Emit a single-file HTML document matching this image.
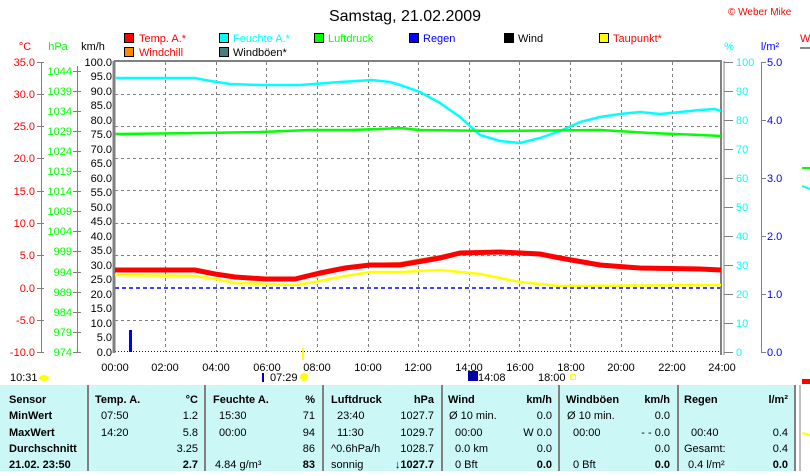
<!DOCTYPE html>
<html><head><meta charset="utf-8"><style>
body{margin:0;background:#fff;width:810px;height:471px;overflow:hidden;font-family:"Liberation Sans",sans-serif}
svg text{font-family:"Liberation Sans",sans-serif;font-size:11px}
.b{font-weight:bold}
</style></head><body>
<svg width="810" height="471" viewBox="0 0 810 471">
<text x="405" y="21" font-size="16" style="font-size:16px" text-anchor="middle">Samstag, 21.02.2009</text>
<text x="728" y="15" fill="#f00" style="font-size:10px">© Weber Mike</text>
<g>
<rect x="124.5" y="33.5" width="9" height="9" fill="#f00" stroke="#000"/><text x="139" y="42" fill="#f00">Temp. A.*</text>
<rect x="124.5" y="47.5" width="9" height="9" fill="#f80" stroke="#000"/><text x="139" y="56" fill="#f00">Windchill</text>
<rect x="219.5" y="33.5" width="9" height="9" fill="#0ff" stroke="#000"/><text x="233" y="42" fill="#0ff">Feuchte A.*</text>
<rect x="219.5" y="47.5" width="9" height="9" fill="#478080" stroke="#000"/><text x="233" y="56">Windböen*</text>
<rect x="314.5" y="33.5" width="9" height="9" fill="#0f0" stroke="#000"/><text x="328" y="42" fill="#0f0">Luftdruck</text>
<rect x="409.5" y="33.5" width="9" height="9" fill="#00f" stroke="#000"/><text x="423" y="42" fill="#00f">Regen</text>
<rect x="504.5" y="33.5" width="9" height="9" fill="#000" stroke="#000"/><text x="518" y="42">Wind</text>
<rect x="599.5" y="33.5" width="9" height="9" fill="#ff0" stroke="#000"/><text x="613" y="42" fill="#f00">Taupunkt*</text>
</g>
<text x="25" y="50" fill="#f00" text-anchor="middle">°C</text>
<text x="58" y="50" fill="#0f0" text-anchor="middle">hPa</text>
<text x="93" y="50" text-anchor="middle">km/h</text>
<text x="729" y="50" fill="#0ff" text-anchor="middle">%</text>
<text x="770" y="50" fill="#00f" text-anchor="middle">l/m²</text>
<text x="800" y="42" fill="#f00">W</text>
<line x1="800" y1="48" x2="810" y2="48" stroke="#888" stroke-width="2"/>
<g stroke="#808080" stroke-dasharray="3,3" stroke-width="1">
<line x1="115" y1="94.5" x2="721" y2="94.5"/><line x1="115" y1="126.5" x2="721" y2="126.5"/>
<line x1="115" y1="158.5" x2="721" y2="158.5"/><line x1="115" y1="190.5" x2="721" y2="190.5"/>
<line x1="115" y1="223.5" x2="721" y2="223.5"/><line x1="115" y1="255.5" x2="721" y2="255.5"/>
<line x1="115" y1="320.5" x2="721" y2="320.5"/>
<line x1="165.5" y1="62" x2="165.5" y2="352"/><line x1="216.5" y1="62" x2="216.5" y2="352"/>
<line x1="266.5" y1="62" x2="266.5" y2="352"/><line x1="317.5" y1="62" x2="317.5" y2="352"/>
<line x1="368.5" y1="62" x2="368.5" y2="352"/><line x1="418.5" y1="62" x2="418.5" y2="352"/>
<line x1="469.5" y1="62" x2="469.5" y2="352"/><line x1="519.5" y1="62" x2="519.5" y2="352"/>
<line x1="570.5" y1="62" x2="570.5" y2="352"/><line x1="621.5" y1="62" x2="621.5" y2="352"/>
<line x1="672.5" y1="62" x2="672.5" y2="352"/>
</g>
<line x1="115" y1="288" x2="721" y2="288" stroke="#0000ff" stroke-width="1.5" stroke-dasharray="4,3"/>
<line x1="115" y1="351.5" x2="721" y2="351.5" stroke="#00f" stroke-dasharray="1,2"/>
<g stroke="#808080" fill="none">
<line x1="114" y1="61" x2="722" y2="61" stroke-width="2"/>
<line x1="114" y1="61" x2="114" y2="353" stroke-width="3"/>
<line x1="721" y1="61" x2="721" y2="355" stroke-width="2"/>
<line x1="724" y1="61" x2="724" y2="355" stroke-width="1"/>
<line x1="41.5" y1="62" x2="41.5" y2="352"/>
<line x1="77.5" y1="66" x2="77.5" y2="352"/>
<line x1="761.5" y1="62" x2="761.5" y2="352"/>
</g>
<polyline fill="none" stroke="#0ff" stroke-width="2.5" points="115,78 195,78 205,80 230,84 260,85 300,85 340,82 372,80 390,82 400,85 420,92 440,103 460,117 480,135 500,141 520,143 540,138 560,131 580,122 600,117 620,114 640,112 660,114 680,112 700,110 715,109 721,111"/>
<polyline fill="none" stroke="#0f0" stroke-width="2.5" points="115,134 200,133 260,132 310,130 350,130 380,129 400,128 420,130 500,131 600,130 650,133 700,135 721,136"/>
<polyline fill="none" stroke="#f80" stroke-width="2" points="115,269 195,269 215,273 235,277 265,279 295,279 320,275 345,269 370,264 400,263 440,256 460,252 500,251 540,253 560,257 600,264 640,267 700,268 721,269"/>
<polyline fill="none" stroke="#f00" stroke-width="5" points="115,270 195,270 215,274 235,277 265,279 295,279 320,273 345,268 370,265 400,265 440,258 460,253 500,252 540,254 560,258 600,265 640,268 700,269 721,270"/>
<polyline fill="none" stroke="#ff0" stroke-width="2.5" points="115,275 195,276 215,279 235,283 265,284 295,285 320,281 345,276 370,272 400,272 440,270 480,274 520,282 560,286 721,285"/>
<rect x="129" y="330" width="3" height="22" fill="#00f"/>
<rect x="302" y="348" width="2" height="12" fill="#ff0"/>
<g fill="#f00" text-anchor="end">
<text x="35" y="66">35.0</text><text x="35" y="98">30.0</text><text x="35" y="130">25.0</text><text x="35" y="162">20.0</text><text x="35" y="195">15.0</text><text x="35" y="227">10.0</text><text x="35" y="259">5.0</text><text x="35" y="292">0.0</text><text x="35" y="324">-5.0</text><text x="35" y="356">-10.0</text>
</g>
<g stroke="#808080"><line x1="37" y1="62.5" x2="44" y2="62.5"/><line x1="37" y1="94.5" x2="44" y2="94.5"/><line x1="37" y1="126.5" x2="44" y2="126.5"/><line x1="37" y1="158.5" x2="44" y2="158.5"/><line x1="37" y1="191.5" x2="44" y2="191.5"/><line x1="37" y1="223.5" x2="44" y2="223.5"/><line x1="37" y1="255.5" x2="44" y2="255.5"/><line x1="37" y1="288.5" x2="44" y2="288.5"/><line x1="37" y1="320.5" x2="44" y2="320.5"/><line x1="37" y1="352.5" x2="44" y2="352.5"/></g>
<g fill="#0f0" text-anchor="end">
<text x="72" y="75">1044</text><text x="72" y="95">1039</text><text x="72" y="115">1034</text><text x="72" y="135">1029</text><text x="72" y="155">1024</text><text x="72" y="175">1019</text><text x="72" y="195">1014</text><text x="72" y="215">1009</text><text x="72" y="235">1004</text><text x="72" y="255">999</text><text x="72" y="276">994</text><text x="72" y="296">989</text><text x="72" y="316">984</text><text x="72" y="336">979</text><text x="72" y="356">974</text>
</g>
<g stroke="#808080"><line x1="73" y1="71.5" x2="81" y2="71.5"/><line x1="73" y1="91.5" x2="81" y2="91.5"/><line x1="73" y1="111.5" x2="81" y2="111.5"/><line x1="73" y1="131.5" x2="81" y2="131.5"/><line x1="73" y1="151.5" x2="81" y2="151.5"/><line x1="73" y1="171.5" x2="81" y2="171.5"/><line x1="73" y1="191.5" x2="81" y2="191.5"/><line x1="73" y1="211.5" x2="81" y2="211.5"/><line x1="73" y1="231.5" x2="81" y2="231.5"/><line x1="73" y1="251.5" x2="81" y2="251.5"/><line x1="73" y1="272.5" x2="81" y2="272.5"/><line x1="73" y1="292.5" x2="81" y2="292.5"/><line x1="73" y1="312.5" x2="81" y2="312.5"/><line x1="73" y1="332.5" x2="81" y2="332.5"/><line x1="73" y1="352.5" x2="81" y2="352.5"/></g>
<g text-anchor="end">
<text x="112" y="66">100.0</text><text x="112" y="80">95.0</text><text x="112" y="95">90.0</text><text x="112" y="109">85.0</text><text x="112" y="124">80.0</text><text x="112" y="138">75.0</text><text x="112" y="153">70.0</text><text x="112" y="167">65.0</text><text x="112" y="182">60.0</text><text x="112" y="196">55.0</text><text x="112" y="211">50.0</text><text x="112" y="225">45.0</text><text x="112" y="240">40.0</text><text x="112" y="254">35.0</text><text x="112" y="269">30.0</text><text x="112" y="283">25.0</text><text x="112" y="298">20.0</text><text x="112" y="312">15.0</text><text x="112" y="327">10.0</text><text x="112" y="341">5.0</text><text x="112" y="356">0.0</text>
</g>
<g fill="#0ff">
<text x="736" y="66">100</text><text x="736" y="95">90</text><text x="736" y="124">80</text><text x="736" y="153">70</text><text x="736" y="182">60</text><text x="736" y="211">50</text><text x="736" y="240">40</text><text x="736" y="269">30</text><text x="736" y="298">20</text><text x="736" y="327">10</text><text x="736" y="356">0</text>
</g>
<g stroke="#808080"><line x1="724" y1="62.5" x2="733" y2="62.5"/><line x1="724" y1="91.5" x2="733" y2="91.5"/><line x1="724" y1="120.5" x2="733" y2="120.5"/><line x1="724" y1="149.5" x2="733" y2="149.5"/><line x1="724" y1="178.5" x2="733" y2="178.5"/><line x1="724" y1="207.5" x2="733" y2="207.5"/><line x1="724" y1="236.5" x2="733" y2="236.5"/><line x1="724" y1="265.5" x2="733" y2="265.5"/><line x1="724" y1="294.5" x2="733" y2="294.5"/><line x1="724" y1="323.5" x2="733" y2="323.5"/><line x1="724" y1="352.5" x2="733" y2="352.5"/>
<line x1="761" y1="62.5" x2="766" y2="62.5"/><line x1="761" y1="120.5" x2="766" y2="120.5"/><line x1="761" y1="178.5" x2="766" y2="178.5"/><line x1="761" y1="236.5" x2="766" y2="236.5"/><line x1="761" y1="294.5" x2="766" y2="294.5"/><line x1="761" y1="352.5" x2="766" y2="352.5"/></g>
<g fill="#00f"><text x="767" y="66">5.0</text><text x="767" y="124">4.0</text><text x="767" y="182">3.0</text><text x="767" y="240">2.0</text><text x="767" y="298">1.0</text><text x="767" y="356">0.0</text></g>
<line x1="802" y1="168" x2="810" y2="168" stroke="#0f0" stroke-width="2"/>
<line x1="802" y1="186" x2="810" y2="189" stroke="#0ff" stroke-width="2"/>
<g text-anchor="middle">
<text x="115" y="371">00:00</text><text x="165" y="371">02:00</text><text x="216" y="371">04:00</text><text x="267" y="371">06:00</text><text x="317" y="371">08:00</text><text x="368" y="371">10:00</text><text x="418" y="371">12:00</text><text x="469" y="371">14:00</text><text x="520" y="371">16:00</text><text x="571" y="371">18:00</text><text x="621" y="371">20:00</text><text x="672" y="371">22:00</text><text x="722" y="371">24:00</text>
</g>
<text x="10" y="381">10:31</text><ellipse cx="44" cy="378" rx="5" ry="3" fill="#ff0"/>
<rect x="262" y="373" width="2" height="9" fill="#00a"/>
<text x="270" y="381">07:29</text><circle cx="304" cy="377" r="4" fill="#ff0"/>
<rect x="468" y="371" width="10" height="10" fill="#00a"/><text x="478" y="381">14:08</text>
<text x="538" y="381">18:00</text><rect x="570.5" y="374.5" width="5" height="5" fill="none" stroke="#ff0"/>
<rect x="0" y="385" width="795" height="86" fill="#ccf7f7"/>
<g stroke="#808080" stroke-width="2"><line x1="88" y1="385" x2="88" y2="471"/><line x1="205" y1="385" x2="205" y2="471"/><line x1="323" y1="385" x2="323" y2="471"/><line x1="442" y1="385" x2="442" y2="471"/><line x1="559" y1="385" x2="559" y2="471"/><line x1="678" y1="385" x2="678" y2="471"/><line x1="795" y1="385" x2="795" y2="471"/><line x1="800" y1="385" x2="800" y2="471" stroke-width="1"/></g>
<rect x="802" y="379" width="8" height="5" fill="#f00"/>
<line x1="802" y1="433" x2="810" y2="435" stroke="#ff0" stroke-width="2"/>
<g class="b">
<text x="9" y="403">Sensor</text><text x="9" y="419">MinWert</text><text x="9" y="436">MaxWert</text><text x="9" y="452">Durchschnitt</text><text x="9" y="468">21.02. 23:50</text>
<text x="95" y="403">Temp. A.</text><text x="213" y="403">Feuchte A.</text><text x="331" y="403">Luftdruck</text><text x="448" y="403">Wind</text><text x="566" y="403">Windböen</text><text x="684" y="403">Regen</text>
</g>
<g class="b" text-anchor="end"><text x="198" y="403">°C</text><text x="315" y="403">%</text><text x="434" y="403">hPa</text><text x="552" y="403">km/h</text><text x="670" y="403">km/h</text><text x="788" y="403">l/m²</text></g>
<text x="101" y="419">07:50</text><text x="101" y="436">14:20</text>
<text x="219" y="419">15:30</text><text x="219" y="436">00:00</text><text x="215" y="468">4.84 g/m³</text>
<text x="337" y="419">23:40</text><text x="337" y="436">11:30</text><text x="331" y="452">^0.6hPa/h</text><text x="331" y="468">sonnig</text>
<text x="449" y="419">Ø 10 min.</text><text x="455" y="436">00:00</text><text x="455" y="452">0.0 km</text><text x="455" y="468">0 Bft</text>
<text x="567" y="419">Ø 10 min.</text><text x="573" y="436">00:00</text><text x="573" y="468">0 Bft</text>
<text x="691" y="436">00:40</text><text x="684" y="452">Gesamt:</text><text x="688" y="468">0.4 l/m²</text>
<g text-anchor="end">
<text x="198" y="419">1.2</text><text x="198" y="436">5.8</text><text x="198" y="452">3.25</text><text x="198" y="468" class="b">2.7</text>
<text x="315" y="419">71</text><text x="315" y="436">94</text><text x="315" y="452">86</text><text x="315" y="468" class="b">83</text>
<text x="434" y="419">1027.7</text><text x="434" y="436">1029.7</text><text x="434" y="452">1028.7</text><text x="434" y="468" class="b">↓1027.7</text>
<text x="552" y="419">0.0</text><text x="552" y="436">W 0.0</text><text x="552" y="452">0.0</text><text x="552" y="468" class="b">0.0</text>
<text x="670" y="419">0.0</text><text x="670" y="436">- - 0.0</text><text x="670" y="452">0.0</text><text x="670" y="468" class="b">0.0</text>
<text x="788" y="436">0.4</text><text x="788" y="452">0.4</text><text x="788" y="468" class="b">0.0</text>
</g>
</svg>
</body></html>
